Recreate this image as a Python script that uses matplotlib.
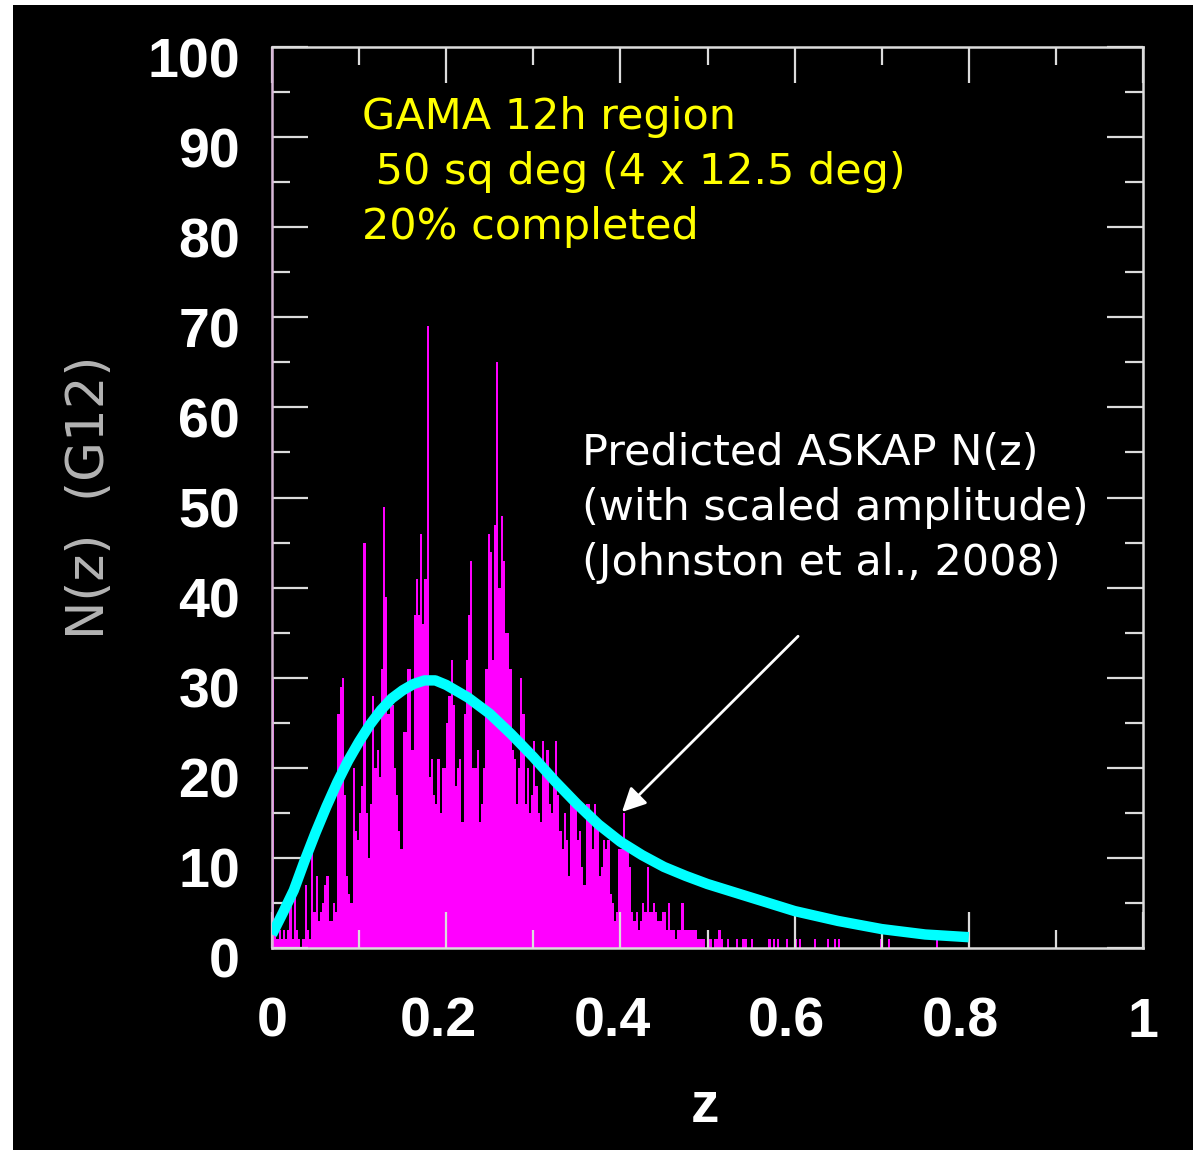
import matplotlib
matplotlib.use("Agg")
import matplotlib.pyplot as plt
from matplotlib.patches import Rectangle
from matplotlib.ticker import MultipleLocator, FixedFormatter, FixedLocator
from matplotlib.transforms import ScaledTranslation
import numpy as np

# G12 redshift histogram, bins of 0.0025 in z starting at z=0 -------------------------
bin_width = 0.0025
counts = [
    30, 2, 1, 2, 1, 2, 1, 2, 6, 1,
    7, 2, 1, 0, 1, 7, 2, 1, 12, 4,
    8, 3, 4, 5, 7, 8, 3, 3, 5, 4,
    26, 29, 30, 17, 8, 6, 5, 20, 13, 12,
    15, 18, 45, 15, 10, 16, 28, 20, 22, 19,
    31, 49, 39, 26, 27, 27, 20, 17, 13, 11,
    24, 24, 31, 31, 22, 37, 41, 37, 46, 36,
    41, 69, 19, 21, 17, 16, 21, 15, 20, 20,
    25, 28, 32, 27, 18, 20, 21, 14, 26, 32,
    37, 43, 20, 20, 22, 14, 16, 20, 31, 46,
    44, 32, 47, 65, 40, 48, 43, 35, 35, 31,
    22, 21, 16, 20, 30, 26, 16, 20, 15, 17,
    23, 18, 15, 14, 23, 20, 22, 16, 15, 19,
    23, 17, 13, 11, 15, 12, 8, 17, 17, 16,
    12, 13, 9, 7, 16, 16, 14, 11, 16, 14,
    8, 9, 12, 11, 12, 6, 5, 3, 4, 11,
    11, 15, 11, 11, 9, 4, 3, 4, 2, 3,
    5, 4, 9, 4, 4, 5, 4, 3, 3, 4,
    4, 2, 5, 2, 2, 1, 2, 2, 5, 2,
    2, 2, 2, 2, 2, 1, 1, 1, 1, 0,
    1, 1, 0, 1, 1, 2, 1, 0, 0, 1,
    0, 0, 0, 1, 0, 0, 1, 1, 0, 0,
    1, 0, 0, 0, 0, 0, 0, 0, 1, 0,
    1, 0, 1, 0, 0, 0, 1, 0, 0, 0,
    1, 0, 1, 0, 0, 0, 0, 0, 0, 1,
    0, 0, 0, 0, 0, 1, 0, 0, 1, 0,
    1, 0, 0, 0, 0, 0, 0, 0, 0, 0,
    0, 0, 0, 0, 0, 0, 0, 0, 0, 1,
    0, 0, 0, 1, 0, 0, 0, 0, 0, 0,
    0, 0, 0, 0, 0, 0, 0, 0, 0, 0,
    0, 0, 0, 0, 0, 1, 0, 0, 0, 0,
    0, 0, 0, 0, 0, 0, 0, 0, 0, 0,
]

# predicted ASKAP N(z) (scaled) ---------------------------------------------------------
askap_z = [0.0, 0.0125, 0.025, 0.0375, 0.05, 0.0625, 0.075, 0.0875, 0.1, 0.1125,
           0.125, 0.1375, 0.15, 0.1625, 0.175, 0.1875, 0.2, 0.225, 0.25, 0.275,
           0.3, 0.325, 0.35, 0.375, 0.4, 0.425, 0.45, 0.475, 0.5, 0.55,
           0.6, 0.65, 0.7, 0.75, 0.8]
askap_n = [1.5, 3.9, 6.4, 9.7, 12.8, 15.7, 18.4, 20.8, 22.9, 24.8,
           26.4, 27.7, 28.6, 29.3, 29.7, 29.7, 29.2, 27.8, 26.0, 23.7,
           21.2, 18.5, 16.0, 13.7, 11.8, 10.3, 9.0, 8.0, 7.1, 5.6,
           4.1, 3.0, 2.1, 1.5, 1.2]

x_ticks = [0, 0.2, 0.4, 0.6, 0.8, 1]
x_tick_labels = ["0", "0.2", "0.4", "0.6", "0.8", "1"]
y_ticks = [0, 10, 20, 30, 40, 50, 60, 70, 80, 90, 100]

gama_text = "GAMA 12h region\n 50 sq deg (4 x 12.5 deg)\n20% completed"
askap_text = "Predicted ASKAP N(z)\n(with scaled amplitude)\n(Johnston et al., 2008)"

W, H = 1193, 1150
fig = plt.figure(figsize=(W / 100, H / 100), dpi=100, facecolor="black")
# thin white strips at the top and left edge, like the slide grab
fig.patches.append(Rectangle((0, 0), 13 / W, 1, transform=fig.transFigure,
                             facecolor="white", edgecolor="none", zorder=-10))
fig.patches.append(Rectangle((0, 1 - 5 / H), 1, 5 / H, transform=fig.transFigure,
                             facecolor="white", edgecolor="none", zorder=-10))

ax = fig.add_axes([272 / W, 1 - 948 / H, (1143 - 272) / W, (948 - 47) / H])
ax.set_facecolor("black")

edges = np.arange(len(counts) + 1) * bin_width
ax.stairs(counts, edges, fill=True, color="#ff00ff", linewidth=0, zorder=1)
ax.plot(askap_z, askap_n, color="#00ffff", linewidth=7.5, solid_capstyle="butt",
        solid_joinstyle="round", zorder=3)

ax.set_xlim(0, 1)
ax.set_ylim(0, 100)

# axis cosmetics ------------------------------------------------------------------------
axis_col = "#dcdcdc"
for side in ["top", "right", "bottom"]:
    ax.spines[side].set_color(axis_col)
    ax.spines[side].set_linewidth(1.8)
ax.spines["left"].set_color("#d8b8d8")
ax.spines["left"].set_linewidth(1.8)

ax.xaxis.set_major_locator(FixedLocator(x_ticks))
ax.xaxis.set_major_formatter(FixedFormatter(x_tick_labels))
ax.xaxis.set_minor_locator(MultipleLocator(0.1))
ax.yaxis.set_major_locator(FixedLocator(y_ticks))
ax.yaxis.set_minor_locator(MultipleLocator(5))

ax.tick_params(which="both", direction="in", top=True, right=True, color=axis_col, width=1.6)
ax.tick_params(which="major", length=26)
ax.tick_params(which="minor", length=13)
ax.tick_params(axis="x", which="major", pad=35)
ax.tick_params(axis="y", which="major", pad=23)
for lab in ax.get_xticklabels() + ax.get_yticklabels():
    lab.set_fontfamily("Liberation Sans")
    lab.set_fontweight("bold")
    lab.set_fontsize(40)
    lab.set_color("white")

# the old plot package sits the numbers a little low / left of their ticks
for lab in ax.get_yticklabels():
    lab.set_transform(lab.get_transform() + ScaledTranslation(0, -0.10, fig.dpi_scale_trans))
for lab, txt in zip(ax.get_xticklabels(), x_tick_labels):
    if "." in txt:
        lab.set_transform(lab.get_transform() + ScaledTranslation(-0.08, 0, fig.dpi_scale_trans))

fig.text(90 / W, 1 - 497 / H, "N(z)  (G12)", rotation=90, ha="center", va="center",
         fontsize=37, color="#b4b4b4", family="DejaVu Sans")
fig.text(705 / W, 1 - 1122 / H, "z", ha="center", va="baseline",
         fontsize=41, color="white", family="Liberation Sans", fontweight="bold")

# annotations -------------------------------------------------------------------------
ax.text(0.1033, 94.6, gama_text, ha="left", va="top", color="#ffff00",
        fontsize=31, family="DejaVu Sans", linespacing=1.4)
ax.text(0.356, 57.3, askap_text, ha="left", va="top", color="white",
        fontsize=31, family="DejaVu Sans", linespacing=1.4)
ax.annotate("", xy=(0.4018, 15.1), xytext=(0.604, 34.6),
            arrowprops=dict(arrowstyle="-|>", color="white", lw=2, mutation_scale=36,
                            shrinkA=0, shrinkB=0), zorder=4)

fig.savefig("out.png", dpi=100, facecolor=fig.get_facecolor())
